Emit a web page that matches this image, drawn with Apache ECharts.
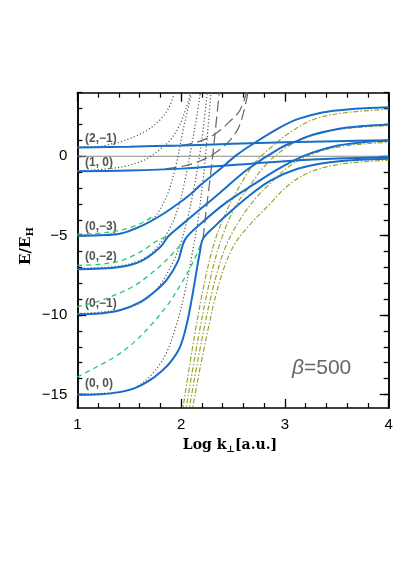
<!DOCTYPE html>
<html>
<head>
<meta charset="utf-8">
<title>E/E_H vs Log k</title>
<script src="https://cdn.jsdelivr.net/npm/echarts@6/dist/echarts.min.js"></script>
<style>
  html, body { margin: 0; padding: 0; background: #fff; }
  #view { width: 399px; height: 564px; }
</style>
</head>
<body>
<div id="view"></div>
<script>
// axis ranges and ticks
var xMin = 1, xMax = 4;
var yMin = -15.85, yMax = 4;
var yMajor = [-15, -10, -5, 0];
var yMinor = [-15, -14, -13, -12, -11, -10, -9, -8, -7, -6, -5, -4, -3, -2, -1, 0, 1, 2, 3, 4];

// level names, top to bottom
var levelNames = ['(2,−1)', '(1, 0)', '(0,−3)', '(0,−2)', '(0,−1)', '(0, 0)'];

// solid blue curves, [log k, E/E_H]
var solid21 = [[1, 0.55], [1.5, 0.6], [2, 0.68], [2.5, 0.78], [3, 0.88], [3.5, 0.95], [4, 1.0]];
var solid10 = [[1, -0.95], [1.5, -0.9], [2, -0.78], [2.5, -0.55], [3, -0.32], [3.5, -0.15], [4, -0.06]];
var solid03 = [[1, -5.0], [1.22, -4.97], [1.41, -4.88], [1.63, -4.35], [1.83, -3.62], [1.99, -2.9], [2.09, -2.4],
  [2.18, -1.85], [2.35, -0.95], [2.54, 0.1], [2.71, 0.85], [2.95, 1.8], [3.13, 2.35], [3.36, 2.76], [3.6, 2.95], [4, 3.08]];
var solid02 = [[1, -7.12], [1.41, -6.97], [1.63, -6.55], [1.8, -5.72], [1.875, -5.05], [1.99, -4.4], [2.21, -3.2],
  [2.375, -2.3], [2.635, -0.85], [2.95, 0.5], [3.13, 1.0], [3.27, 1.35], [3.51, 1.72], [3.75, 1.9], [4, 2.0]];
var solid01 = [[1, -9.95], [1.22, -9.9], [1.41, -9.7], [1.6, -9.2], [1.75, -8.5], [1.865, -7.75], [1.97, -6.6],
  [2.038, -5.25], [2.18, -4.3], [2.44, -2.89], [2.71, -1.73], [2.95, -0.75], [3.19, 0.04], [3.51, 0.67], [3.75, 0.88], [4, 0.99]];
var solid00 = [[1, -15.02], [1.22, -14.98], [1.41, -14.85], [1.556, -14.6], [1.7, -14.1], [1.8, -13.6], [1.893, -13.0],
  [1.99, -12.0], [2.057, -10.5], [2.105, -8.9], [2.134, -7.8], [2.182, -6.0], [2.211, -5.2], [2.327, -4.4], [2.423, -3.8],
  [2.635, -2.6], [2.856, -1.55], [3.116, -0.8], [3.434, -0.38], [3.723, -0.22], [4, -0.16]];

// green dashed
var dashed03 = [[1, -4.9], [1.22, -4.84], [1.41, -4.66], [1.55, -4.4], [1.668, -4.04], [1.72, -3.82]];
var dashed02 = [[1, -6.87], [1.22, -6.8], [1.41, -6.6], [1.556, -6.2], [1.652, -5.85], [1.749, -5.4], [1.826, -5.15], [1.874, -5.03]];
var dashed01 = [[1, -9.48], [1.22, -9.1], [1.41, -8.6], [1.537, -8.2], [1.7, -7.45], [1.864, -6.5], [2.038, -5.27]];
var dashed00 = [[1, -13.9], [1.219, -13.15], [1.38, -12.55], [1.54, -11.75], [1.7, -10.7], [1.86, -9.45], [1.99, -8.15], [2.12, -6.6], [2.211, -5.22]];

// grey dotted
var dotted21 = [[1, 0.58], [1.22, 0.62], [1.315, 0.76], [1.41, 0.9], [1.556, 1.25], [1.7, 1.75], [1.826, 2.5], [1.893, 3.2], [1.945, 4.2]];
var dotted10 = [[1, -0.92], [1.344, -0.76], [1.508, -0.55], [1.652, -0.22], [1.72, 0.05], [1.797, 0.45], [1.893, 1.0], [1.97, 1.75], [2.047, 3.0], [2.1, 4.2]];
var dotted03 = [[1, -4.97], [1.41, -4.86], [1.6, -4.45], [1.729, -3.95], [1.826, -3.0], [1.893, -1.95], [1.96, -0.3], [2.018, 1.6], [2.066, 3.0], [2.11, 4.2]];
var dotted02 = [[1, -7.05], [1.41, -6.9], [1.652, -6.4], [1.797, -5.5], [1.893, -4.5], [1.97, -3.3], [2.038, -1.5], [2.105, 0.8], [2.153, 2.6], [2.19, 4.2]];
var dotted01 = [[1, -9.9], [1.38, -9.7], [1.633, -9.15], [1.797, -8.1], [1.912, -6.8], [1.99, -5.6], [2.066, -3.8], [2.124, -2.0], [2.182, 0.2], [2.221, 2.2], [2.255, 4.2]];
var dotted00 = [[1, -14.97], [1.41, -14.83], [1.6, -14.4], [1.749, -13.5], [1.864, -12.3], [1.96, -10.5], [2.038, -8.5], [2.105, -6.2], [2.163, -4.0], [2.211, -1.5], [2.249, 1.0], [2.29, 4.2]];

// grey long dashes
var longA = [[1.85, 0.65], [2.038, 0.72], [2.182, 0.95], [2.327, 1.4], [2.471, 2.2], [2.567, 2.9], [2.64, 4.2]];
var longB = [[1.85, -0.8], [2.038, -0.6], [2.182, -0.3], [2.327, 0.2], [2.471, 1.0], [2.567, 2.0], [2.65, 4.2]];
var longC = [[2.211, -5.2], [2.249, -3.0], [2.278, -1.5], [2.317, 0.8], [2.37, 4.2]];

// olive dash-dot
var olive03 = [[2.01, -16.2], [2.124, -11.5], [2.23, -7.8], [2.327, -5.3], [2.442, -3.4], [2.567, -1.84], [2.712, -0.4],
  [2.856, 0.5], [3.049, 1.5], [3.271, 2.3], [3.531, 2.7], [4, 2.96]];
var olive02 = [[2.04, -16.2], [2.163, -11.5], [2.278, -7.8], [2.384, -5.3], [2.519, -3.2], [2.664, -1.84], [2.808, -0.6],
  [3.001, 0.5], [3.242, 1.3], [3.531, 1.7], [4, 1.93]];
var olive01 = [[2.07, -16.2], [2.201, -11.5], [2.327, -7.8], [2.442, -5.5], [2.587, -3.8], [2.731, -2.55], [2.837, -1.84],
  [3.049, -0.6], [3.29, 0.2], [3.579, 0.65], [4, 0.88]];
var olive00 = [[2.1, -16.2], [2.24, -11.5], [2.375, -7.8], [2.51, -5.6], [2.664, -4.3], [2.856, -3.0], [3.03, -1.84],
  [3.242, -1.0], [3.531, -0.5], [4, -0.25]];

var zeroLine = [[1, 0], [4, 0]];

var view = echarts.init(document.getElementById('view'));

function curve(data, color, width, type) {
  return {
    type: 'line',
    data: data,
    showSymbol: false,
    smooth: 0.35,
    silent: true,
    lineStyle: { color: color, width: width, type: type }
  };
}

var blue = '#176dc9', green = '#22cc6e', grey = '#555', olive = '#a0a030';
var series = [curve(zeroLine, '#888', 1.2, 'solid')];
[dotted21, dotted10, dotted03, dotted02, dotted01, dotted00].forEach(function (d) {
  series.push(curve(d, grey, 1.2, [1.2, 2.2]));
});
[longA, longB, longC].forEach(function (d) {
  series.push(curve(d, '#666', 1.2, [11, 5]));
});
[olive03, olive02, olive01, olive00].forEach(function (d) {
  series.push(curve(d, olive, 1.2, [5, 2, 1.5, 2]));
});
[dashed03, dashed02, dashed01, dashed00].forEach(function (d) {
  series.push(curve(d, green, 1.3, [5, 4]));
});
[solid21, solid10, solid03, solid02, solid01, solid00].forEach(function (d) {
  series.push(curve(d, blue, 2, 'solid'));
});

var frame = { show: true, onZero: false, lineStyle: { color: '#000', width: 1.5 } };
function yAxis(pos, ticks, len, labels) {
  return {
    type: 'value', position: pos, min: yMin, max: yMax,
    axisLine: frame,
    splitLine: { show: false },
    axisTick: { inside: true, length: len, customValues: ticks, lineStyle: { color: '#000', width: 1.3 } },
    axisLabel: {
      show: labels, customValues: ticks, margin: 10, fontSize: 15, color: '#000', fontFamily: 'Liberation Sans',
      formatter: function (v) { return v < 0 ? '−' + Math.abs(v) : String(v); }
    }
  };
}
function xAxis(pos, labels) {
  return {
    type: 'value', position: pos, min: xMin, max: xMax, interval: 1,
    axisLine: frame,
    splitLine: { show: false },
    axisTick: { inside: true, length: 9, lineStyle: { color: '#000', width: 1.3 } },
    minorTick: { show: true, splitNumber: 5, length: 5, lineStyle: { color: '#000', width: 1.2 } },
    axisLabel: { show: labels, margin: 9, fontSize: 15, color: '#000', fontFamily: 'Liberation Sans' }
  };
}

var labelYs = [139, 163, 226.5, 256.5, 304, 383.5];
var graphics = levelNames.map(function (t, i) {
  return {
    type: 'text', x: 85, y: labelYs[i], silent: true,
    style: {
      text: t, fill: '#555', font: 'bold 12px "Liberation Sans"',
      textAlign: 'left', textVerticalAlign: 'middle', align: 'left', verticalAlign: 'middle'
    }
  };
});
graphics.push({
  type: 'text', x: 292, y: 368, silent: true,
  style: {
    text: '{b|β}{n|=500}', fill: '#666', textAlign: 'left', textVerticalAlign: 'middle', align: 'left', verticalAlign: 'middle',
    rich: {
      b: { fontSize: 21, fontStyle: 'italic', fontFamily: 'Liberation Sans', fill: '#666', color: '#666' },
      n: { fontSize: 21, fontFamily: 'Liberation Sans', fill: '#666', color: '#666' }
    }
  }
});
graphics.push({
  type: 'text', x: 26, y: 246, rotation: Math.PI / 2, silent: true,
  style: {
    text: '{a|E/E}{s|H}', textAlign: 'center', textVerticalAlign: 'middle', align: 'center', verticalAlign: 'middle',
    rich: {
      a: { fontSize: 15, fontWeight: 'bold', fontFamily: 'DejaVu Serif', fill: '#000', color: '#000' },
      s: { fontSize: 10, fontWeight: 'bold', fontFamily: 'DejaVu Serif', fill: '#000', color: '#000', padding: [9, 0, 0, 0] }
    }
  }
});
graphics.push({
  type: 'text', x: 230, y: 445, silent: true,
  style: {
    text: '{a|Log k}{s|⊥}{a|[a.u.]}', textAlign: 'center', textVerticalAlign: 'middle', align: 'center', verticalAlign: 'middle',
    rich: {
      a: { fontSize: 14, fontWeight: 'bold', fontFamily: 'DejaVu Serif', fill: '#000', color: '#000' },
      s: { fontSize: 9, fontWeight: 'bold', fontFamily: 'DejaVu Serif', fill: '#000', color: '#000', padding: [9, 0, 0, 0] }
    }
  }
});

var option = {
  animation: false,
  backgroundColor: '#fff',
  grid: { left: 77.3, right: 10.3, top: 92.7, bottom: 156, containLabel: false },
  xAxis: [xAxis('bottom', true), xAxis('top', false)],
  yAxis: [
    yAxis('left', yMajor, 9, true),
    yAxis('left', yMinor, 5, false),
    yAxis('right', yMajor, 9, false),
    yAxis('right', yMinor, 5, false)
  ],
  series: series,
  graphic: graphics
};
view.setOption(option);
</script>
</body>
</html>
